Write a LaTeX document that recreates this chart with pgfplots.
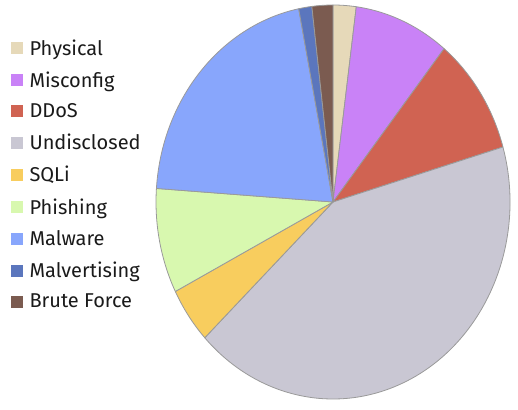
\documentclass[border=0pt]{standalone}
\usepackage{pgfplots}
\usepackage{pgfplotstable}
\pgfplotsset{compat=1.18}
\usepackage{fontspec}
\setmainfont{Fira Sans}

\definecolor{c0}{HTML}{E6D9B9}
\definecolor{c1}{HTML}{C982F7}
\definecolor{c2}{HTML}{D06352}
\definecolor{c3}{HTML}{C9C7D3}
\definecolor{c4}{HTML}{F8CD5E}
\definecolor{c5}{HTML}{D8F8AF}
\definecolor{c6}{HTML}{88A6FC}
\definecolor{c7}{HTML}{5B76BD}
\definecolor{c8}{HTML}{7B5B50}
\definecolor{edge}{HTML}{9A9A9A}
\definecolor{txt}{HTML}{1A1A1A}

% share of each attack type, in percent, clockwise from the top
\pgfplotstableread[col sep=comma]{
label,value
Physical,2.1
Misconfig,8.7
DDoS,9.7
Undisclosed,42.4
SQLi,4.6
Phishing,8.6
Malware,20.8
Malvertising,1.2
Brute Force,1.9
}\piedata

% cumulative angles, starting at 90 deg and going clockwise
\def\total{0}
\pgfplotsforeachungrouped \i in {0,...,8}{%
  \pgfplotstablegetelem{\i}{value}\of\piedata
  \pgfmathsetmacro\total{\total+\pgfplotsretval}%
}
\def\cumangle{90}
\pgfplotsforeachungrouped \i in {0,...,8}{%
  \pgfplotstablegetelem{\i}{value}\of\piedata
  \pgfmathsetmacro\sweep{\pgfplotsretval/\total*360}%
  \expandafter\xdef\csname sa\i\endcsname{\cumangle}%
  \pgfmathsetmacro\cumangle{\cumangle-\sweep}%
  \expandafter\xdef\csname ea\i\endcsname{\cumangle}%
}

\begin{document}
\begin{tikzpicture}
\path[use as bounding box] (0,0) rectangle (518pt,409pt);
\begin{axis}[
    at={(333pt,207pt)}, anchor=center,
    width=354pt, height=394pt, scale only axis,
    xmin=-1, xmax=1, ymin=-1, ymax=1,
    axis lines=none, clip=false,
    legend style={
        at={(axis description cs:-0.42,0.923)}, anchor=north west,
        draw=none, fill=none, font=\fontsize{20}{22}\selectfont,
        text=txt, row sep=11pt,
        cells={anchor=west},
        /tikz/every odd column/.append style={column sep=5pt},
    },
    legend image code/.code={
        \fill[#1, draw=none] (0pt,-6pt) rectangle (12pt,6pt);
    },
]
\pgfplotsinvokeforeach{0,...,8}{
  \fill[c#1, draw=edge, line width=0.8pt, line join=round]
    (axis cs:0,0) -- (axis cs:{cos(\csname sa#1\endcsname)},{sin(\csname sa#1\endcsname)})
    arc[start angle=\csname sa#1\endcsname, end angle=\csname ea#1\endcsname,
        x radius=177pt, y radius=197pt] -- cycle;
}
\pgfplotsforeachungrouped \i in {0,...,8}{%
  \pgfplotstablegetelem{\i}{label}\of\piedata
  \edef\temp{\noexpand\addlegendimage{fill=c\i}\noexpand\addlegendentry{\pgfplotsretval}}%
  \temp
}
\end{axis}
\end{tikzpicture}
\end{document}
